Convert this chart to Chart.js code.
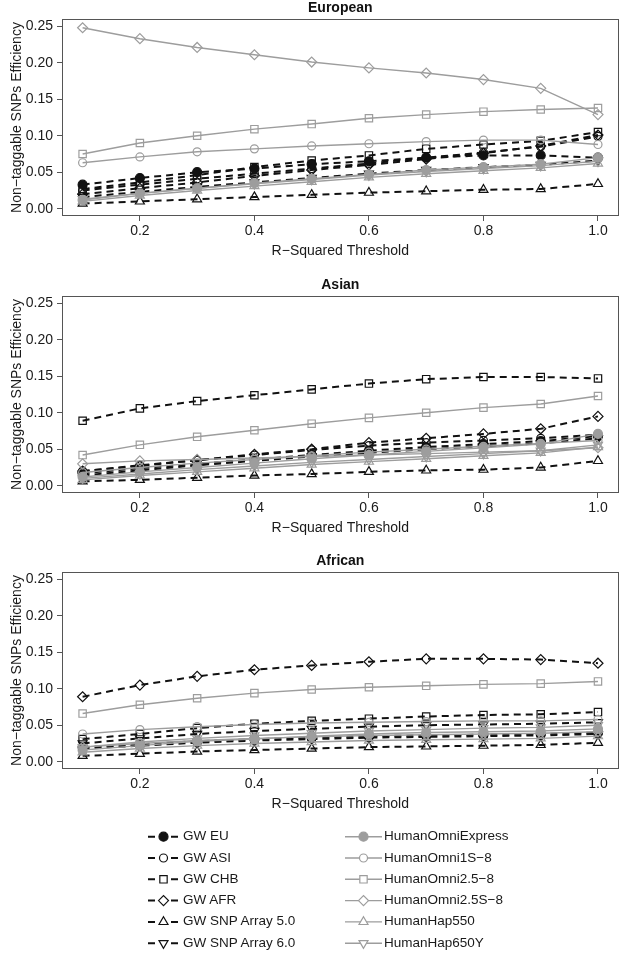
<!DOCTYPE html>
<html><head><meta charset="utf-8">
<script src="https://cdn.jsdelivr.net/npm/chart.js@4.4.1/dist/chart.umd.min.js"></script>
<style>
html,body{margin:0;padding:0;background:#fff;width:625px;height:955px;overflow:hidden;font-family:"Liberation Sans",Arial,sans-serif;}
.pnl{position:absolute;left:0;width:625px;height:262px;}
#lg{position:absolute;left:0;top:815px;}
.li{position:absolute;font-size:13.5px;color:#1a1a1a;white-space:nowrap;line-height:16px;}
</style></head><body>
<div class="pnl" style="top:0"><canvas id="c0" width="625" height="262"></canvas></div>
<div class="pnl" style="top:277px"><canvas id="c1" width="625" height="262"></canvas></div>
<div class="pnl" style="top:553px"><canvas id="c2" width="625" height="262"></canvas></div>
<canvas id="lg" width="625" height="140"></canvas>
<div id="legendText"></div>
<script>
// ---------- DATA ----------
const thresholds = [0.1,0.2,0.3,0.4,0.5,0.6,0.7,0.8,0.9,1.0];
const xTicks = [0.2,0.4,0.6,0.8,1.0];
const yTicks = [0.00,0.05,0.10,0.15,0.20,0.25];
const panelTitles = ['European','Asian','African'];
const seriesNames = ['GW EU','GW ASI','GW CHB','GW AFR','GW SNP Array 5.0','GW SNP Array 6.0',
  'HumanOmniExpress','HumanOmni1S−8','HumanOmni2.5−8','HumanOmni2.5S−8','HumanHap550','HumanHap650Y'];

// European
const eu_GW_EU       = [0.033,0.042,0.050,0.055,0.061,0.065,0.070,0.073,0.073,0.070];
const eu_GW_ASI      = [0.025,0.033,0.041,0.048,0.055,0.062,0.070,0.077,0.085,0.099];
const eu_GW_CHB      = [0.027,0.036,0.046,0.057,0.066,0.073,0.082,0.088,0.093,0.105];
const eu_GW_AFR      = [0.020,0.028,0.036,0.045,0.053,0.060,0.068,0.076,0.086,0.101];
const eu_GW_SNP5     = [0.007,0.010,0.013,0.016,0.019,0.022,0.024,0.026,0.027,0.034];
const eu_GW_SNP6     = [0.016,0.023,0.030,0.036,0.042,0.048,0.053,0.057,0.060,0.066];
const eu_OmniExpress = [0.012,0.021,0.028,0.035,0.041,0.047,0.053,0.057,0.061,0.070];
const eu_Omni1S      = [0.063,0.071,0.078,0.082,0.086,0.089,0.092,0.094,0.094,0.088];
const eu_Omni25      = [0.075,0.090,0.100,0.109,0.116,0.124,0.129,0.133,0.136,0.138];
const eu_Omni25S     = [0.248,0.233,0.221,0.211,0.201,0.193,0.186,0.177,0.165,0.129];
const eu_Hap550      = [0.010,0.018,0.025,0.031,0.037,0.043,0.048,0.052,0.056,0.062];
const eu_Hap650Y     = [0.013,0.021,0.028,0.034,0.040,0.046,0.051,0.055,0.059,0.065];

// Asian
const as_GW_EU       = [0.017,0.024,0.030,0.036,0.042,0.048,0.053,0.057,0.061,0.068];
const as_GW_ASI      = [0.020,0.028,0.035,0.042,0.049,0.055,0.059,0.062,0.065,0.070];
const as_GW_CHB      = [0.089,0.106,0.116,0.124,0.132,0.140,0.146,0.149,0.149,0.147];
const as_GW_AFR      = [0.020,0.027,0.035,0.043,0.050,0.059,0.065,0.071,0.078,0.095];
const as_GW_SNP5     = [0.006,0.008,0.011,0.014,0.016,0.019,0.021,0.022,0.025,0.034];
const as_GW_SNP6     = [0.014,0.021,0.028,0.034,0.040,0.045,0.050,0.054,0.058,0.065];
const as_OmniExpress = [0.012,0.019,0.025,0.031,0.037,0.042,0.047,0.052,0.057,0.071];
const as_Omni1S      = [0.018,0.025,0.031,0.036,0.041,0.046,0.050,0.054,0.058,0.062];
const as_Omni25      = [0.042,0.056,0.067,0.076,0.085,0.093,0.100,0.107,0.112,0.123];
const as_Omni25S     = [0.030,0.034,0.036,0.038,0.040,0.042,0.044,0.046,0.048,0.052];
const as_Hap550      = [0.008,0.014,0.019,0.024,0.029,0.033,0.037,0.041,0.045,0.053];
const as_Hap650Y     = [0.010,0.016,0.022,0.027,0.032,0.036,0.040,0.044,0.048,0.056];

// African
const af_GW_EU       = [0.020,0.024,0.028,0.031,0.033,0.035,0.036,0.037,0.038,0.040];
const af_GW_ASI      = [0.018,0.022,0.026,0.029,0.031,0.033,0.034,0.035,0.036,0.038];
const af_GW_CHB      = [0.031,0.038,0.046,0.052,0.056,0.059,0.062,0.064,0.065,0.068];
const af_GW_AFR      = [0.089,0.105,0.117,0.126,0.132,0.137,0.141,0.141,0.140,0.135];
const af_GW_SNP5     = [0.008,0.011,0.014,0.016,0.018,0.020,0.021,0.022,0.023,0.026];
const af_GW_SNP6     = [0.025,0.032,0.038,0.042,0.045,0.048,0.050,0.051,0.052,0.054];
const af_OmniExpress = [0.016,0.022,0.028,0.031,0.035,0.038,0.040,0.041,0.042,0.045];
const af_Omni1S      = [0.038,0.044,0.048,0.051,0.053,0.054,0.055,0.056,0.056,0.058];
const af_Omni25      = [0.066,0.078,0.087,0.094,0.099,0.102,0.104,0.106,0.107,0.110];
const af_Omni25S     = [0.020,0.025,0.029,0.032,0.034,0.036,0.037,0.038,0.039,0.041];
const af_Hap550      = [0.013,0.018,0.022,0.025,0.027,0.029,0.030,0.031,0.032,0.035];
const af_Hap650Y     = [0.020,0.027,0.032,0.036,0.039,0.042,0.044,0.046,0.047,0.050];

const panelSeries = [
  [eu_GW_EU,eu_GW_ASI,eu_GW_CHB,eu_GW_AFR,eu_GW_SNP5,eu_GW_SNP6,eu_OmniExpress,eu_Omni1S,eu_Omni25,eu_Omni25S,eu_Hap550,eu_Hap650Y],
  [as_GW_EU,as_GW_ASI,as_GW_CHB,as_GW_AFR,as_GW_SNP5,as_GW_SNP6,as_OmniExpress,as_Omni1S,as_Omni25,as_Omni25S,as_Hap550,as_Hap650Y],
  [af_GW_EU,af_GW_ASI,af_GW_CHB,af_GW_AFR,af_GW_SNP5,af_GW_SNP6,af_OmniExpress,af_Omni1S,af_Omni25,af_Omni25S,af_Hap550,af_Hap650Y]
];

// ---------- STYLES ----------
const FONT = '"Liberation Sans", Arial, sans-serif';
const BLACK = '#111111', GRAY = '#9d9d9d', TXT = '#1a1a1a', FRAME = '#555555';
const shapes = [
  {ps:'circle', filled:true, r:4.5}, {ps:'circle', r:4}, {ps:'rect', r:5.2},
  {ps:'rectRot', r:5}, {ps:'triangle', r:5.2}, {ps:'triangle', r:5.2, rot:180}
];
function styleOf(i){
  const black = i < 6;
  const s = shapes[i % 6];
  const col = black ? BLACK : GRAY;
  return {
    color: col, dashed: black, ps: s.ps, r: s.r, rot: s.rot || 0,
    fill: s.filled ? col : 'rgba(0,0,0,0)'
  };
}

const framePlugin = {
  id:'frame',
  afterDraw(chart){
    const {ctx, chartArea:a} = chart;
    ctx.save(); ctx.strokeStyle = FRAME; ctx.lineWidth = 1;
    ctx.strokeRect(Math.round(a.left)+0.5, Math.round(a.top)+0.5, Math.round(a.right-a.left)-1, Math.round(a.bottom-a.top)-1);
    ctx.restore();
  }
};

function makeChart(idx){
  const datasets = panelSeries[idx].map((arr, i) => {
    const st = styleOf(i);
    return {
      label: seriesNames[i],
      data: thresholds.map((x, k) => ({x, y: arr[k]})),
      borderColor: st.color,
      borderWidth: st.dashed ? 2 : 1.4,
      borderDash: st.dashed ? [7,5] : [],
      pointStyle: st.ps,
      pointRadius: st.r,
      pointRotation: st.rot,
      pointBackgroundColor: st.fill,
      pointBorderColor: st.color,
      pointBorderWidth: 1.2,
      tension: 0,
      fill: false,
      order: i < 6 ? 1 : 0
    };
  });
  return new Chart(document.getElementById('c'+idx), {
    type:'line',
    data:{datasets},
    plugins:[framePlugin],
    options:{
      responsive:false, animation:false, devicePixelRatio:1,
      layout:{padding:{left:0,right:2,top:0,bottom:0}},
      plugins:{
        legend:{display:false}, tooltip:{enabled:false},
        title:{display:true, fullSize:false, text:panelTitles[idx], color:'#111',
          font:{family:FONT,size:14,weight:'bold',lineHeight:1.2}, padding:{top:0,bottom:2.2}}
      },
      scales:{
        x:{type:'linear', min:0.064, max:1.036,
          afterBuildTicks:s=>{s.ticks = xTicks.map(v=>({value:v}));},
          afterFit:s=>{s.height = 46;},
          ticks:{callback:v=>Number(v).toFixed(1), color:TXT, font:{family:FONT,size:14}, padding:2, maxRotation:0, autoSkip:false},
          grid:{drawOnChartArea:false, drawTicks:true, tickLength:5, color:FRAME},
          border:{display:false},
          title:{display:true, text:'R−Squared Threshold', color:TXT, font:{family:FONT,size:14,lineHeight:1.2}, padding:{top:0,bottom:2.6}}
        },
        y:{min:-0.01, max:0.26,
          afterBuildTicks:s=>{s.ticks = yTicks.map(v=>({value:v}));},
          afterFit:s=>{s.width = 62;},
          ticks:{callback:v=>Number(v).toFixed(2), color:TXT, font:{family:FONT,size:14}, padding:4},
          grid:{drawOnChartArea:false, drawTicks:true, tickLength:5, color:FRAME},
          border:{display:false},
          title:{display:true, text:'Non−taggable SNPs Efficiency', color:TXT, font:{family:FONT,size:14,lineHeight:1.2}, padding:{top:8.6,bottom:0}}
        }
      }
    }
  });
}
[0,1,2].forEach(makeChart);

// ---------- LEGEND ----------
(function(){
  const cv = document.getElementById('lg');
  const ctx = cv.getContext('2d');
  const holder = document.getElementById('legendText');
  const top0 = 815;
  const rowY = k => 836.7 + k*21.3 - top0;
  for (let i = 0; i < 12; i++){
    const st = styleOf(i);
    const col = i < 6 ? 0 : 1;
    const k = i % 6;
    const y = rowY(k);
    const cx = col === 0 ? 163.5 : 363.5;
    ctx.save();
    ctx.strokeStyle = st.color;
    if (col === 0){
      ctx.lineWidth = 2;
      ctx.beginPath(); ctx.moveTo(148, y); ctx.lineTo(155, y); ctx.moveTo(171, y); ctx.lineTo(178, y); ctx.stroke();
    } else {
      ctx.lineWidth = 1.4;
      ctx.beginPath(); ctx.moveTo(345, y); ctx.lineTo(382, y); ctx.stroke();
    }
    ctx.fillStyle = st.fill === 'rgba(0,0,0,0)' ? '#ffffff' : st.fill;
    ctx.lineWidth = 1.2;
    Chart.helpers.drawPoint(ctx, {pointStyle: st.ps, radius: st.r, rotation: st.rot, borderWidth: 1.2}, cx, y);
    ctx.restore();
    const d = document.createElement('div');
    d.className = 'li';
    d.textContent = seriesNames[i];
    d.style.left = (col === 0 ? 183 : 384) + 'px';
    d.style.top = (top0 + y - 8.5) + 'px';
    holder.appendChild(d);
  }
})();
</script>
</body></html>
